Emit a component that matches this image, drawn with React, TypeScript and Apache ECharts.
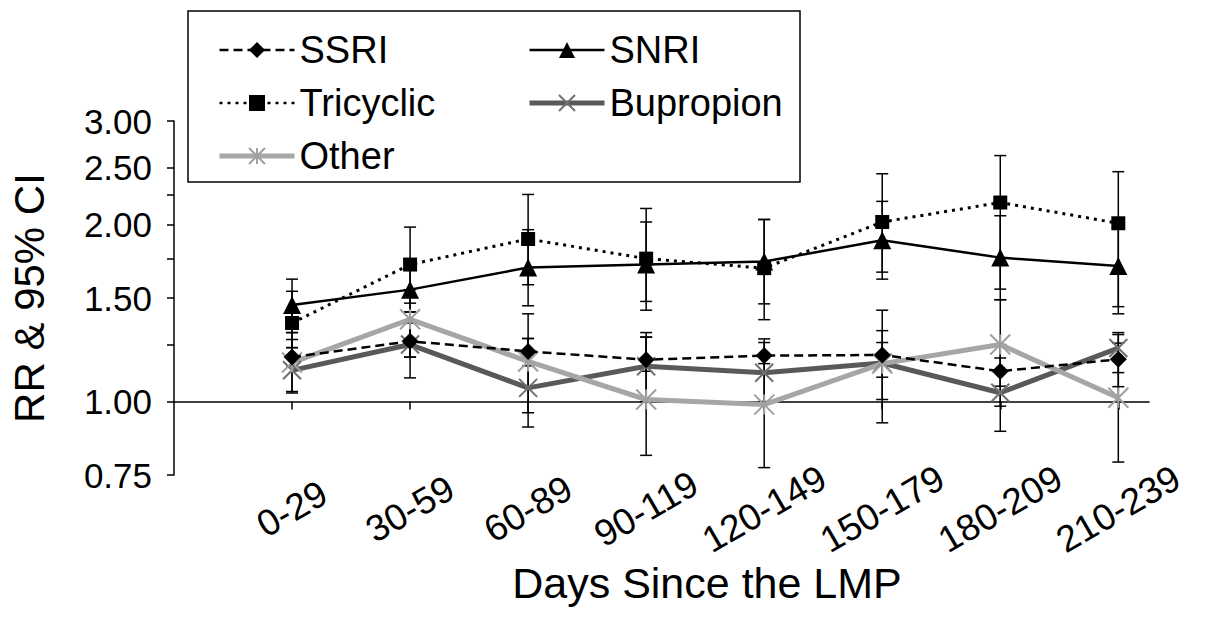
import React, { useEffect, useRef } from 'react';
import * as echarts from 'echarts';

const categories = ['0-29', '30-59', '60-89', '90-119', '120-149', '150-179', '180-209', '210-239'];

const ssri = [1.19, 1.266, 1.217, 1.178, 1.197, 1.2, 1.126, 1.18];
const ssriLow = [1.15, 1.19, 1.15, 1.126, 1.16, 1.1, 1.062, 1.12];
const ssriHigh = [1.275, 1.36, 1.28, 1.287, 1.26, 1.26, 1.186, 1.257];

const snri = [1.46, 1.55, 1.69, 1.71, 1.73, 1.88, 1.757, 1.7];
const snriLow = [1.31, 1.42, 1.455, 1.48, 1.466, 1.66, 1.49, 1.41];
const snriHigh = [1.615, 1.7, 1.96, 2.02, 2.04, 2.19, 2.07, 2.0];

const tricyclic = [1.36, 1.71, 1.89, 1.75, 1.686, 2.02, 2.18, 2.01];
const tricyclicLow = [1.235, 1.47, 1.58, 1.43, 1.378, 1.615, 1.553, 1.45];
const tricyclicHigh = [1.54, 1.98, 2.25, 2.13, 2.04, 2.44, 2.62, 2.46];

const bupropion = [1.13, 1.25, 1.055, 1.148, 1.119, 1.163, 1.035, 1.233];
const bupropionLow = [1.034, 1.097, 0.957, 1.0, 1.0, 0.92, 0.89, 1.06];
const bupropionHigh = [1.235, 1.42, 1.28, 1.31, 1.278, 1.43, 1.25, 1.31];

const other = [1.165, 1.38, 1.17, 1.008, 0.988, 1.16, 1.25, 1.015];
const otherLow = [1.04, 1.19, 0.905, 0.81, 0.772, 1.008, 0.982, 0.789];
const otherHigh = [1.31, 1.55, 1.41, 1.287, 1.2, 1.32, 1.49, 1.3];

const yLabelValues = [0.75, 1.0, 1.5, 2.0, 2.5, 3.0];
const yTickValues = [0.75, 1.0, 1.25, 1.5, 1.75, 2.0, 2.25, 2.5, 3.0];

const FONT = '"Liberation Sans", Arial, sans-serif';
const X_SHAPE = 'path://M0,0L20,20M20,0L0,20';
const STAR_SHAPE = 'path://M0,0L20,20M20,0L0,20M10,0L10,20';

const idx = categories.map((_, i) => i);

function lineData(values: number[]) {
  return values.map((v, i) => [i, Math.log(v)]);
}

function errorSeries(lows: number[], highs: number[]) {
  return {
    type: 'custom',
    z: 1,
    silent: true,
    encode: { x: 0, y: [1, 2] },
    data: lows.map((lo, i) => [i, Math.log(lo), Math.log(highs[i])]),
    renderItem: (params: any, api: any) => {
      const x = api.value(0);
      const lo = api.coord([x, api.value(1)]);
      const hi = api.coord([x, api.value(2)]);
      const hw = 6;
      const st = { stroke: '#000', lineWidth: 1.5 };
      return {
        type: 'group',
        children: [
          { type: 'line', shape: { x1: lo[0], y1: lo[1], x2: hi[0], y2: hi[1] }, style: st },
          { type: 'line', shape: { x1: lo[0] - hw, y1: lo[1], x2: lo[0] + hw, y2: lo[1] }, style: st },
          { type: 'line', shape: { x1: hi[0] - hw, y1: hi[1], x2: hi[0] + hw, y2: hi[1] }, style: st },
        ],
      };
    },
  };
}

export default function App() {
  const ref = useRef<HTMLDivElement>(null);

  useEffect(() => {
    if (!ref.current) return;
    const chart = echarts.init(ref.current, undefined, { renderer: 'svg' });
    const xMin = -1;
    const xMax = categories.length - 1 + 0.26;
    const legendText = { fontSize: 38, color: '#000', fontFamily: FONT, lineHeight: 40 };

    chart.setOption({
      animation: false,
      backgroundColor: '#fff',
      textStyle: { fontFamily: FONT },
      grid: { left: 174, right: 63, top: 121, bottom: 149 },
      graphic: [
        {
          type: 'rect',
          z: 0,
          shape: { x: 188, y: 11, width: 612, height: 171 },
          style: { fill: '#fff', stroke: '#000', lineWidth: 1.5 },
        },
        {
          type: 'text',
          x: 707,
          y: 583,
          style: {
            text: 'Days Since the LMP',
            fontSize: 43,
            fontFamily: FONT,
            fill: '#000',
            textAlign: 'center',
            textVerticalAlign: 'middle',
          },
        },
      ],
      legend: [
        {
          orient: 'vertical',
          left: 212,
          top: 25,
          itemWidth: 75,
          itemHeight: 20,
          itemGap: 13,
          textStyle: legendText,
          data: [
            { name: 'SSRI', lineStyle: { width: 2.5 } },
            { name: 'Tricyclic', lineStyle: { width: 2.5 } },
            { name: 'Other', lineStyle: { width: 5 } },
          ],
        },
        {
          orient: 'vertical',
          left: 522,
          top: 25,
          itemWidth: 75,
          itemHeight: 20,
          itemGap: 13,
          textStyle: legendText,
          data: [
            { name: 'SNRI', lineStyle: { width: 2.5 } },
            { name: 'Bupropion', lineStyle: { width: 5 } },
          ],
        },
      ],
      xAxis: {
        type: 'value',
        position: 'bottom',
        min: xMin,
        max: xMax,
        splitLine: { show: false },
        axisLine: { show: true, onZero: true, lineStyle: { color: '#000', width: 1.5 } },
        axisTick: { show: true, customValues: idx, length: 8, lineStyle: { color: '#000', width: 1.5 } },
        axisLabel: {
          customValues: idx,
          formatter: (v: number) => categories[Math.round(v)] ?? '',
          rotate: 30,
          align: 'center',
          verticalAlign: 'middle',
          margin: 34,
          fontSize: 37,
          color: '#000',
          fontFamily: FONT,
        },
      },
      yAxis: {
        type: 'value',
        min: Math.log(yTickValues[0]),
        max: Math.log(yTickValues[yTickValues.length - 1]),
        splitLine: { show: false },
        axisLine: { show: true, onZero: false, lineStyle: { color: '#000', width: 1.5 } },
        axisTick: {
          show: true,
          customValues: yTickValues.map((v) => Math.log(v)),
          length: 7,
          lineStyle: { color: '#000', width: 1.5 },
        },
        axisLabel: {
          customValues: yLabelValues.map((v) => Math.log(v)),
          formatter: (v: number) => Math.exp(v).toFixed(2),
          fontSize: 35,
          color: '#000',
          margin: 22,
          fontFamily: FONT,
        },
        name: 'RR & 95% CI',
        nameLocation: 'middle',
        nameRotate: 90,
        nameGap: 124,
        nameTextStyle: { fontSize: 42, color: '#000', fontFamily: FONT },
      },
      series: [
        errorSeries(ssriLow, ssriHigh),
        errorSeries(snriLow, snriHigh),
        errorSeries(tricyclicLow, tricyclicHigh),
        errorSeries(bupropionLow, bupropionHigh),
        errorSeries(otherLow, otherHigh),
        {
          name: 'SSRI',
          type: 'line',
          z: 3,
          data: lineData(ssri),
          symbol: 'diamond',
          symbolSize: 17,
          lineStyle: { color: '#000', width: 2.5, type: [9, 5] },
          itemStyle: { color: '#000' },
        },
        {
          name: 'SNRI',
          type: 'line',
          z: 3,
          data: lineData(snri),
          symbol: 'triangle',
          symbolSize: 18,
          lineStyle: { color: '#000', width: 2.5, type: 'solid' },
          itemStyle: { color: '#000' },
        },
        {
          name: 'Tricyclic',
          type: 'line',
          z: 3,
          data: lineData(tricyclic),
          symbol: 'rect',
          symbolSize: 14,
          lineStyle: { color: '#000', width: 3, type: [3, 5] },
          itemStyle: { color: '#000' },
        },
        {
          name: 'Bupropion',
          type: 'line',
          z: 2,
          data: lineData(bupropion),
          symbol: X_SHAPE,
          symbolSize: 18,
          lineStyle: { color: '#595959', width: 5 },
          itemStyle: { color: 'rgba(0,0,0,0)', borderColor: '#707070', borderWidth: 2 },
        },
        {
          name: 'Other',
          type: 'line',
          z: 2,
          data: lineData(other),
          symbol: STAR_SHAPE,
          symbolSize: 20,
          lineStyle: { color: '#a6a6a6', width: 5 },
          itemStyle: { color: 'rgba(0,0,0,0)', borderColor: '#a0a0a0', borderWidth: 2 },
        },
      ],
    });

    return () => {
      chart.dispose();
    };
  }, []);

  return (
    <div
      ref={ref}
      style={{ position: 'absolute', left: 0, top: 0, width: 1212, height: 624 }}
    />
  );
}
